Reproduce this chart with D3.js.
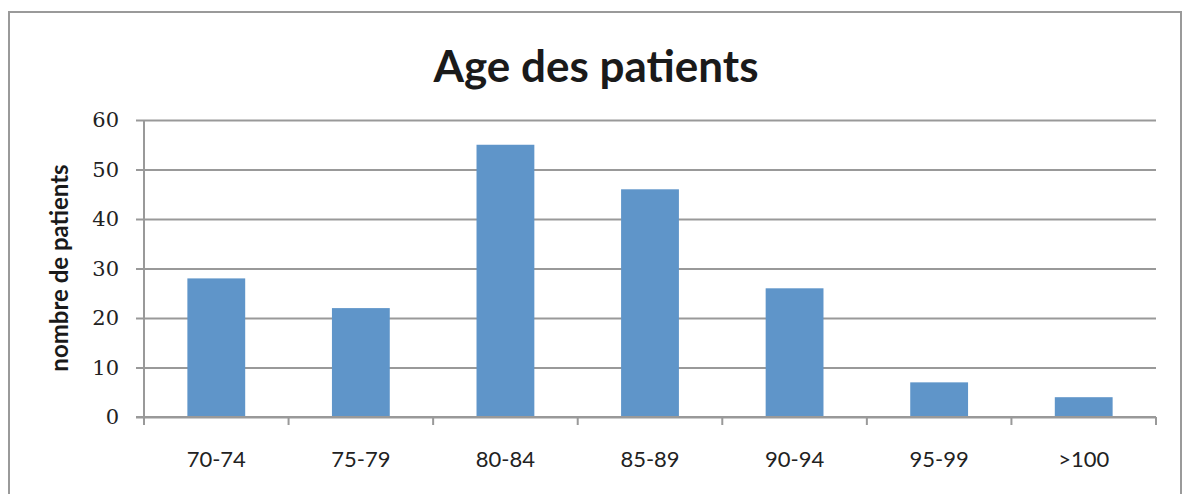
<!DOCTYPE html>
<html lang="fr">
<head>
  <meta charset="UTF-8" />
  <title>Age des patients</title>
  <script src="https://d3js.org/d3.v7.min.js"></script>
  <style>
    body { margin: 0; background: #fff; }
    svg { display: block; }
  </style>
</head>
<body>
  <svg id="chart" width="1187" height="494"></svg>
  <script>
    // data
    const categories = ["70-74", "75-79", "80-84", "85-89", "90-94", "95-99", ">100"];
    const patients = [28, 22, 55, 46, 26, 7, 4];
    const yTicks = [0, 10, 20, 30, 40, 50, 60];

    const svg = d3.select("#chart");
    const plot = { left: 144, right: 1156, top: 120, bottom: 417 };

    // outer frame
    svg.append("rect")
      .attr("x", 9).attr("y", 12)
      .attr("width", 1172).attr("height", 500)
      .attr("fill", "none")
      .attr("stroke", "#9a9a9a")
      .attr("stroke-width", 2);

    svg.append("text")
      .attr("x", 596).attr("y", 82)
      .attr("text-anchor", "middle")
      .attr("font-family", "Lato, 'Open Sans', sans-serif")
      .attr("font-weight", "bold")
      .attr("font-size", 44)
      .attr("fill", "#1a1a1a")
      .text("Age des patients");

    const x = d3.scaleBand()
      .domain(categories)
      .range([plot.left, plot.right])
      .paddingInner(0.6)
      .paddingOuter(0.3);

    const y = d3.scaleLinear()
      .domain([0, 60])
      .range([plot.bottom, plot.top]);

    // gridlines + y ticks
    const yAxis = d3.axisLeft(y)
      .tickValues(yTicks)
      .tickSize(-(plot.right - plot.left))
      .tickPadding(25);

    const gy = svg.append("g")
      .attr("transform", `translate(${plot.left},0)`)
      .call(yAxis);
    gy.select(".domain").remove();
    gy.selectAll(".tick line")
      .attr("x1", -8)
      .attr("stroke", "#999")
      .attr("stroke-width", 2);
    gy.selectAll(".tick text")
      .attr("font-family", "'DejaVu Serif', 'Liberation Serif', serif")
      .attr("font-size", 21)
      .attr("fill", "#222");

    // bars
    svg.append("g")
      .selectAll("rect")
      .data(patients)
      .join("rect")
      .attr("x", (d, i) => x(categories[i]))
      .attr("y", d => y(d))
      .attr("width", x.bandwidth())
      .attr("height", d => y(0) - y(d))
      .attr("fill", "#5f95c9");

    // left axis line
    svg.append("line")
      .attr("x1", plot.left).attr("x2", plot.left)
      .attr("y1", plot.top).attr("y2", plot.bottom + 8)
      .attr("stroke", "#999")
      .attr("stroke-width", 2);

    // bottom axis with ticks at category boundaries
    const step = x.step();
    const boundaries = d3.range(categories.length + 1).map(i => plot.left + i * step);
    svg.append("line")
      .attr("x1", plot.left - 8).attr("x2", plot.right)
      .attr("y1", plot.bottom).attr("y2", plot.bottom)
      .attr("stroke", "#999")
      .attr("stroke-width", 2);
    svg.append("g")
      .selectAll("line")
      .data(boundaries)
      .join("line")
      .attr("x1", d => d).attr("x2", d => d)
      .attr("y1", plot.bottom).attr("y2", plot.bottom + 8)
      .attr("stroke", "#999")
      .attr("stroke-width", 2);

    svg.append("g")
      .selectAll("text")
      .data(categories)
      .join("text")
      .attr("x", d => x(d) + x.bandwidth() / 2)
      .attr("y", 467)
      .attr("text-anchor", "middle")
      .attr("font-family", "Lato, 'Open Sans', sans-serif")
      .attr("font-size", 22)
      .attr("fill", "#222")
      .text(d => d);

    // y axis title
    svg.append("text")
      .attr("transform", "translate(68,268) rotate(-90)")
      .attr("text-anchor", "middle")
      .attr("font-family", "Lato, 'Open Sans', sans-serif")
      .attr("font-weight", "bold")
      .attr("font-size", 24)
      .attr("fill", "#1a1a1a")
      .text("nombre de patients");
  </script>
</body>
</html>
